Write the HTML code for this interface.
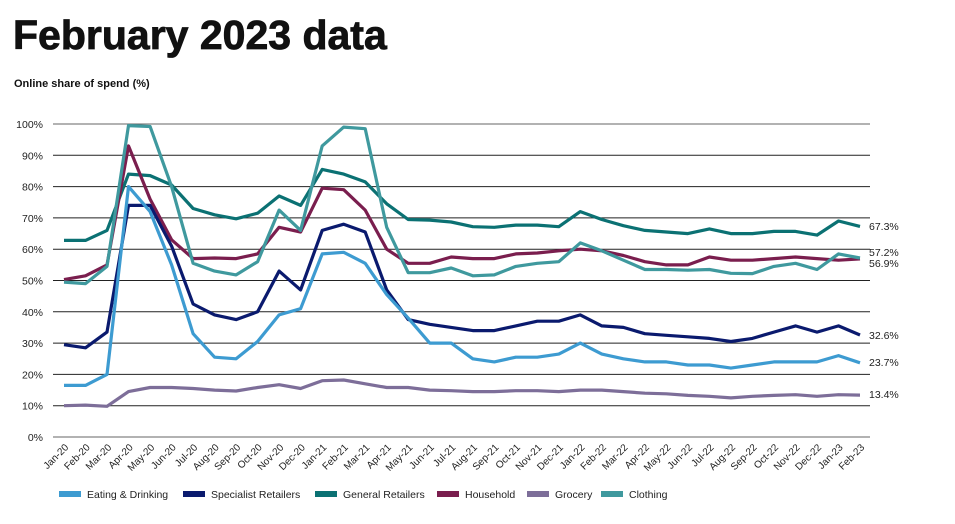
<!DOCTYPE html>
<html><head><meta charset="utf-8"><style>
body{margin:0;background:#fff;width:955px;height:519px;overflow:hidden;font-family:"Liberation Sans",sans-serif}
</style></head><body>
<svg id="s" width="955" height="519" xmlns="http://www.w3.org/2000/svg" font-family="Liberation Sans, sans-serif">
<text x="13" y="49" font-size="41" font-weight="bold" fill="#111" stroke="#111" stroke-width="0.8">February 2023 data</text>
<text x="14" y="87" font-size="11" font-weight="bold" fill="#111">Online share of spend (%)</text>
</svg>
<script>
const s=document.getElementById('s'),NS='http://www.w3.org/2000/svg';
function el(t,a,txt){const e=document.createElementNS(NS,t);for(const k in a)e.setAttribute(k,a[k]);if(txt!=null)e.textContent=txt;s.appendChild(e);return e;}
const y0=437,py=3.13,x0=64,dx=796/37;
const Y=v=>y0-v*py,X=i=>x0+i*dx;
for(let g=0;g<=100;g+=10){el('line',{x1:53,x2:870,y1:Y(g),y2:Y(g),stroke:g==0||g==100?'#666':'#222','stroke-width':1});
el('text',{x:43,y:Y(g)+4,'font-size':10.5,'text-anchor':'end',fill:'#222'},g+'%');}
const mon=['Jan','Feb','Mar','Apr','May','Jun','Jul','Aug','Sep','Oct','Nov','Dec'];
for(let i=0;i<38;i++){const m=mon[i%12]+'-'+(20+Math.floor(i/12));
el('text',{x:0,y:0,'font-size':10,'text-anchor':'end',fill:'#222',transform:`translate(${X(i)+5},${448}) rotate(-45)`},m);}
const D=[
['#0b7173',[62.8,62.8,66,84,83.5,80.5,73,71,69.7,71.5,77,74,85.5,84,81.5,74.5,69.5,69.3,68.7,67.2,67,67.7,67.7,67.2,72,69.5,67.5,66,65.5,65,66.5,65,65,65.7,65.7,64.5,69,67.3]],
['#7a1e4e',[50.3,51.5,55,93,76,63,57,57.2,57,58.5,67,65.5,79.5,79,72.5,60,55.5,55.5,57.5,57,57,58.5,58.8,59.5,60,59.5,58,56,55,55,57.5,56.5,56.5,57,57.5,57,56.5,56.9]],
['#3f999e',[49.5,49,54.5,99.5,99.2,80,55.5,53,51.8,56,72.5,66,93,99,98.5,67,52.5,52.5,54,51.5,51.8,54.5,55.5,56,62,59.5,56.5,53.5,53.5,53.3,53.5,52.3,52.2,54.5,55.5,53.5,58.5,57.2]],
['#7d6e99',[10,10.2,9.8,14.5,15.8,15.8,15.5,15,14.7,15.8,16.7,15.5,18,18.2,17,15.8,15.8,15,14.8,14.5,14.5,14.8,14.8,14.5,15,15,14.5,14,13.8,13.3,13,12.5,13,13.3,13.5,13,13.5,13.4]],
['#0a1a6e',[29.5,28.5,33.5,74,74,61,42.5,39,37.5,40,53,47,66,68,65.5,47,37.5,36,35,34,34,35.5,37,37,39,35.5,35,33,32.5,32,31.5,30.5,31.5,33.5,35.5,33.5,35.5,32.6]],
['#3d9bd1',[16.5,16.5,20,80,72,55,33,25.5,25,30.5,39,41,58.5,59,55.5,45.5,38,30,30,25,24,25.5,25.5,26.5,30,26.5,25,24,24,23,23,22,23,24,24,24,26,23.7]]];
for(const [c,v] of D)el('polyline',{points:v.map((d,i)=>X(i).toFixed(1)+','+Y(d).toFixed(1)).join(' '),fill:'none',stroke:c,'stroke-width':3.2,'stroke-linejoin':'round'});
[['67.3%',230],['57.2%',256],['56.9%',267],['32.6%',339],['23.7%',366],['13.4%',398]].forEach(([t,y])=>el('text',{x:869,y:y,'font-size':10.5,fill:'#222'},t));
[['#3d9bd1','Eating & Drinking',59],['#0a1a6e','Specialist Retailers',183],['#0b7173','General Retailers',315],['#7a1e4e','Household',437],['#7d6e99','Grocery',527],['#3f999e','Clothing',601]].forEach(([c,t,x])=>{
el('rect',{x:x,y:491,width:22,height:6,fill:c});el('text',{x:x+28,y:498,'font-size':10.5,fill:'#222'},t);});
</script>
</body></html>
